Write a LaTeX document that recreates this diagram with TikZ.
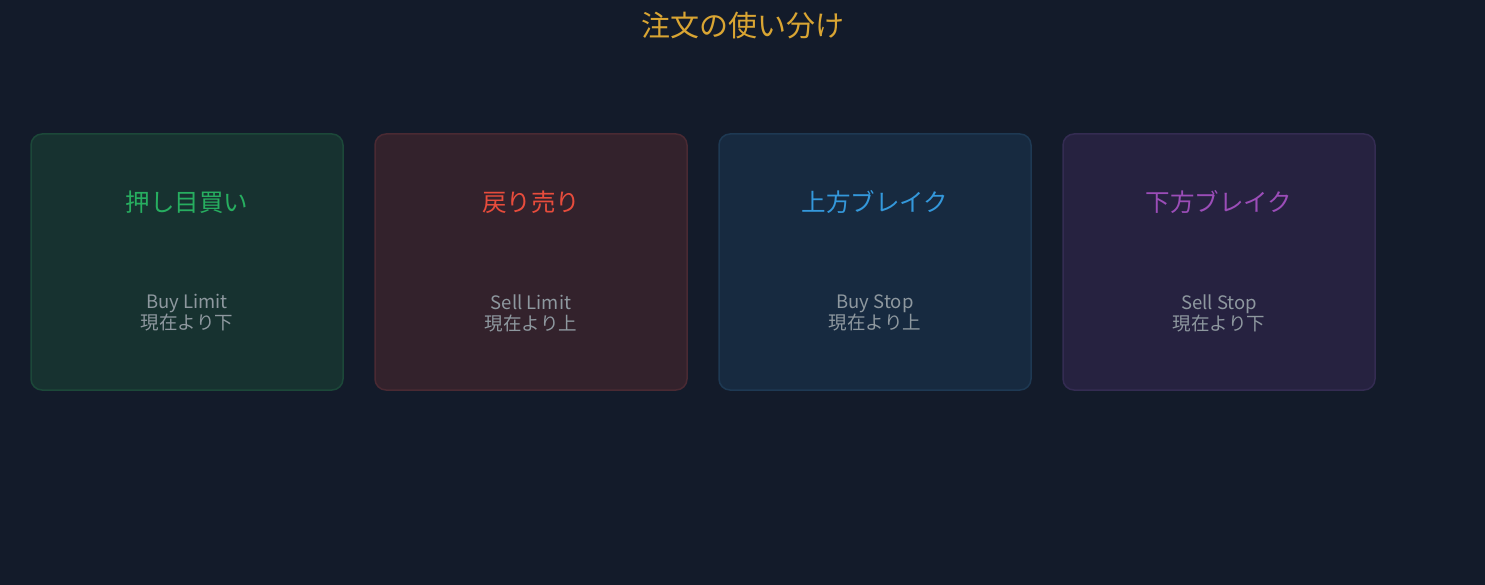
\documentclass[tikz,border=0pt]{standalone}
\usepackage{fontspec}
\setmainfont{Noto Sans CJK JP}
\definecolor{bg}{HTML}{131B2A}
\definecolor{titlec}{HTML}{D9A533}
\definecolor{subc}{HTML}{8E989F}
\definecolor{gfill}{HTML}{173230}\definecolor{gline}{HTML}{1C4839}\definecolor{gtxt}{HTML}{27AE60}
\definecolor{rfill}{HTML}{33222C}\definecolor{rline}{HTML}{4A2A33}\definecolor{rtxt}{HTML}{E74C3C}
\definecolor{bfill}{HTML}{172A40}\definecolor{bline}{HTML}{1E3953}\definecolor{btxt}{HTML}{3498DB}
\definecolor{pfill}{HTML}{262240}\definecolor{pline}{HTML}{342C52}\definecolor{ptxt}{HTML}{9B4DB8}
\begin{document}
\begin{tikzpicture}[x=1pt,y=-1pt,
  card/.style={draw=#1line,fill=#1fill,line width=1.5pt,rounded corners=11pt,minimum width=312pt,minimum height=256pt,inner sep=0pt},
  head/.style={text=#1txt,font=\fontsize{24.5}{28}\selectfont},
  sub/.style={text=subc,font=\fontsize{18.5}{21}\selectfont,align=center}]
\fill[bg] (0,0) rectangle (1485,585);
\useasboundingbox (0,0) rectangle (1485,585);
\node[text=titlec,font=\fontsize{29}{32}\selectfont] (title) at (743,26) {注文の使い分け};
\foreach \c/\x/\h/\en/\jp [count=\i] in {g/187/押し目買い/Buy Limit/現在より下, r/531/戻り売り/Sell Limit/現在より上, b/875/上方ブレイク/Buy Stop/現在より上, p/1219/下方ブレイク/Sell Stop/現在より下}{
  \node[card=\c] (card\i) at (\x,262) {};
  \node[head=\c] (head\i) at (\x,202) {\h};
  \node[sub] (sub\i) at (\x,313) {\en\\\jp};
}
\end{tikzpicture}
\end{document}
